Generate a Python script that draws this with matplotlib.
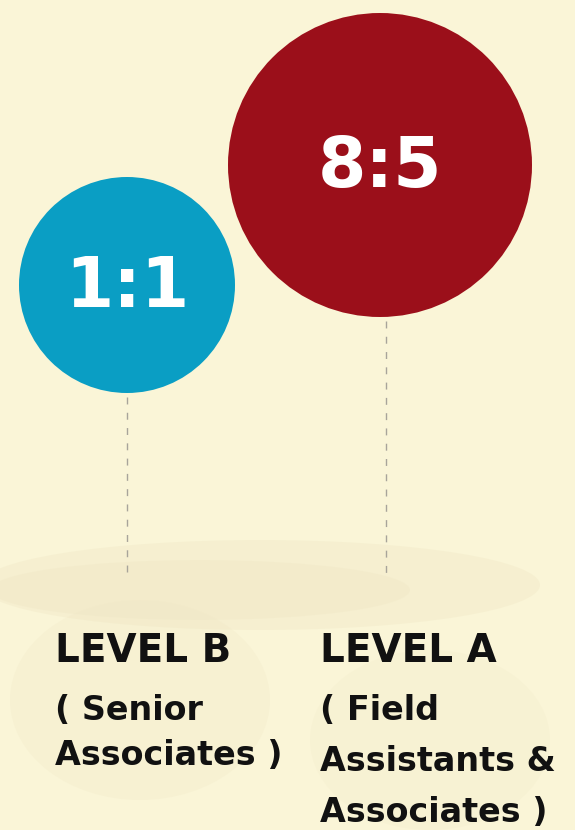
import matplotlib
matplotlib.use('Agg')
import matplotlib.pyplot as plt
from matplotlib.patches import Circle, Ellipse

# Data
ratios = ['1:1', '8:5']
levels = ['LEVEL B', 'LEVEL A']
descriptions = [['( Senior', 'Associates )'],
                ['( Field', 'Assistants &', 'Associates )']]

# Layout (pixel coordinates, y down)
centers = [(127, 285), (380, 165)]
radii = [108, 152]
colors = ['#0A9EC4', '#9B0F1A']
line_x = [127, 386]
line_bottom = 575
label_x = [55, 320]
level_y = 662
desc_y0 = 720
desc_step = [45, 51]

BG = '#FAF5D7'
W, H = 575, 830

fig = plt.figure(figsize=(W / 100, H / 100), dpi=100, facecolor=BG)
ax = fig.add_axes([0, 0, 1, 1])
ax.set_xlim(0, W)
ax.set_ylim(H, 0)
ax.set_aspect('equal')
ax.axis('off')
ax.set_facecolor(BG)

# faint texture near the bottom
for (ex, ey, ew, eh, a) in [(260, 585, 560, 90, 0.35), (200, 590, 420, 60, 0.35),
                            (140, 700, 260, 200, 0.25), (430, 740, 240, 180, 0.2)]:
    ax.add_patch(Ellipse((ex, ey), ew, eh, color='#EFE6C4', alpha=a, lw=0, zorder=0))

for i in range(len(ratios)):
    cx, cy = centers[i]
    r = radii[i]
    # dashed connector
    ax.plot([line_x[i], line_x[i]], [cy + r + 4, line_bottom], color='#A8A49A',
            linestyle=(0, (5, 6)), linewidth=1.0, zorder=1)
    ax.add_patch(Circle((cx, cy), r, color=colors[i], lw=0, zorder=2))
    ax.text(cx, cy + 2, ratios[i], color='white', fontsize=50, fontweight='bold',
            ha='center', va='center', zorder=3, family='DejaVu Sans')
    ax.text(label_x[i], level_y, levels[i], color='#111111', fontsize=28,
            fontweight='bold', ha='left', va='baseline', family='DejaVu Sans')
    for k, line in enumerate(descriptions[i]):
        ax.text(label_x[i], desc_y0 + k * desc_step[i], line, color='#111111',
                fontsize=24, fontweight='bold', ha='left', va='baseline',
                family='DejaVu Sans')

fig.savefig('out.png', dpi=100, facecolor=BG)
